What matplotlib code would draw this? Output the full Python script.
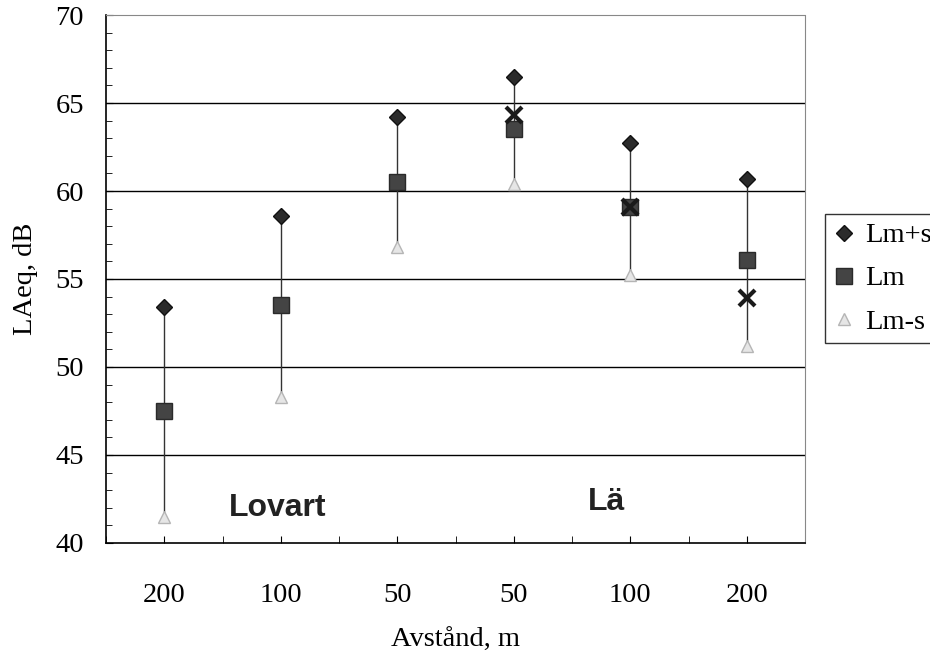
import matplotlib
matplotlib.use('Agg')
import matplotlib.pyplot as plt
import numpy as np

# Avstånd, lovart (vänster) och lä (höger)
labels = ['200', '100', '50', '50', '100', '200']
lm_plus_s = [53.4, 58.6, 64.2, 66.5, 62.7, 60.7]
lm = [47.5, 53.5, 60.5, 63.5, 59.1, 56.1]
lm_minus_s = [41.5, 48.3, 56.8, 60.4, 55.2, 51.2]
# extra X-markeringar (lä-sidan)
x_idx = [3, 4, 5]
x_vals = [64.3, 59.1, 53.9]

plt.rcParams['font.family'] = ['Liberation Serif', 'DejaVu Serif']

fig = plt.figure(figsize=(9.3, 6.53), dpi=100)
ax = fig.add_axes([0.114, 0.1685, 0.7516, 0.8085])

xpos = np.arange(len(labels)) * 2 + 1

# high-low linjer
ax.vlines(xpos, lm_minus_s, lm_plus_s, color='#333333', linewidth=1.0, zorder=2)

ax.plot(xpos, lm_plus_s, linestyle='none', marker='D', markersize=8.5,
        color='#2b2b2b', markeredgecolor='#111111', label='Lm+s', zorder=4)
ax.plot(xpos, lm, linestyle='none', marker='s', markersize=11,
        color='#444444', markeredgecolor='#2a2a2a', label='Lm', zorder=4)
ax.plot(xpos, lm_minus_s, linestyle='none', marker='^', markersize=8.5,
        color='#e6e6e6', markeredgecolor='#b5b5b5', label='Lm-s', zorder=4)
ax.plot(xpos[x_idx], x_vals, linestyle='none', marker='x', markersize=12,
        markeredgewidth=3, color='#1a1a1a', zorder=5)

ax.set_xlim(0, 12)
ax.set_ylim(40, 70)
ax.set_xticks(xpos)
ax.set_xticklabels(labels)
ax.set_xticks(np.arange(0, 13), minor=True)
ax.set_yticks(np.arange(40, 71, 5))
ax.set_yticks(np.arange(40, 71, 1), minor=True)
ax.tick_params(axis='both', which='both', direction='in', labelsize=20.5)
ax.tick_params(axis='x', which='major', length=5, pad=29)
ax.tick_params(axis='x', which='minor', length=5)
ax.tick_params(axis='y', which='major', length=5, pad=16)
ax.tick_params(axis='y', which='minor', length=4)

for y in [45, 50, 55, 60, 65]:
    ax.axhline(y, color='black', linewidth=1.0, zorder=1)

for s in ['top', 'right']:
    ax.spines[s].set_color('#888888')
    ax.spines[s].set_linestyle((0, (1, 1)))
    ax.spines[s].set_linewidth(0.8)
ax.spines['left'].set_linewidth(1.2)
ax.spines['bottom'].set_linewidth(1.2)

ax.set_xlabel('Avstånd, m', fontsize=20.5, labelpad=14)
ax.set_ylabel('LAeq, dB', fontsize=20.5)
ax.yaxis.set_label_coords(-0.097, 0.5)

ax.text(2.94, 42.0, 'Lovart', fontsize=23, fontweight='bold',
        family=['Liberation Sans', 'DejaVu Sans'], ha='center', va='center', color='#222222')
ax.text(8.6, 42.3, 'Lä', fontsize=23, fontweight='bold',
        family=['Liberation Sans', 'DejaVu Sans'], ha='center', va='center', color='#222222')

leg = fig.legend(loc='upper left', bbox_to_anchor=(825 / 930, 1 - 214 / 653),
                 fontsize=20.5, frameon=True, fancybox=False, edgecolor='black',
                 handlelength=0.7, handletextpad=0.4, borderpad=0.3, labelspacing=0.6,
                 borderaxespad=0)
leg.get_frame().set_linewidth(1.0)

fig.savefig('out.png', dpi=100)
